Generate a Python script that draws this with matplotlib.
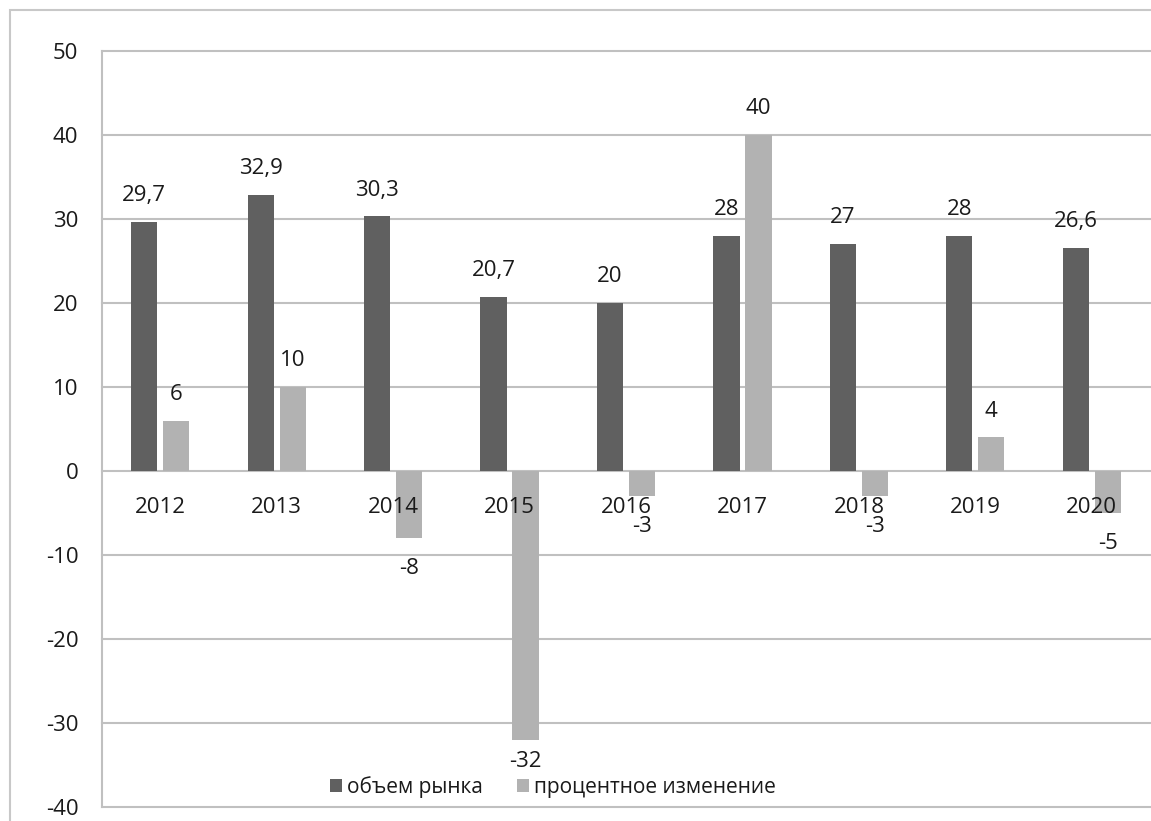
import numpy as np
import matplotlib
matplotlib.use("Agg")
from matplotlib import pyplot as plt
from matplotlib.patches import Rectangle

years = ["2012", "2013", "2014", "2015", "2016", "2017", "2018", "2019", "2020"]
market_volume = [29.7, 32.9, 30.3, 20.7, 20, 28, 27, 28, 26.6]
percent_change = [6, 10, -8, -32, -3, 40, -3, 4, -5]
y_ticks = [-40, -30, -20, -10, 0, 10, 20, 30, 40, 50]

DARK = "#606060"
LIGHT = "#b2b2b2"
GRID = "#c0c0c0"
TEXT = "#1a1a1a"

plt.rcParams['font.family'] = ['Open Sans', 'DejaVu Sans']
plt.rcParams['font.size'] = 16
plt.rcParams['axes.unicode_minus'] = False

W, H = 1151, 821
fig = plt.figure(figsize=(W / 100, H / 100), dpi=100)
ax = fig.add_axes([102 / W, (H - 807) / H, (1150 - 102) / W, (807 - 51) / H])

# outer chart frame
fig.patches.append(Rectangle((10 / W, -0.1), 2, (H - 10) / H + 0.1, transform=fig.transFigure,
                             fill=False, edgecolor="#c8c8c8", linewidth=1.5))


def fmt(v):
    return f"{v:g}".replace(".", ",")


x = np.arange(len(years))
width = 0.225
offset = 0.1375
bars1 = ax.bar(x - offset, market_volume, width, color=DARK, label="объем рынка", zorder=2)
bars2 = ax.bar(x + offset, percent_change, width, color=LIGHT, label="процентное изменение", zorder=2)

for bars, vals in [(bars1, market_volume), (bars2, percent_change)]:
    for b, v in zip(bars, vals):
        xc = b.get_x() + b.get_width() / 2
        if v >= 0:
            ax.annotate(fmt(v), (xc, v), xytext=(0, 19), textcoords="offset points",
                        ha="center", va="center", color=TEXT, zorder=4)
        else:
            # keep the label inside the plot, above the legend
            ax.text(xc, max(v - 3.6, -34.6), fmt(v), ha="center", va="center",
                    color=TEXT, zorder=4)

# category labels sit just below the zero line
for xi, yr in zip(x, years):
    ax.annotate(yr, (xi, 0), xytext=(0, -26), textcoords="offset points",
                ha="center", va="center", color=TEXT, zorder=4)

ax.set_xlim(-0.5, len(years) - 0.5)
ax.set_ylim(-40, 50)
ax.set_yticks(y_ticks)
ax.set_xticks([])
ax.tick_params(axis="y", length=0, pad=17, colors=TEXT)
ax.yaxis.grid(True, color=GRID, linewidth=1.5, zorder=1)
for gl in ax.get_ygridlines():
    gl.set_clip_on(False)
ax.set_axisbelow(True)
for s in ["top", "right", "bottom"]:
    ax.spines[s].set_visible(False)
ax.spines["left"].set_color(GRID)
ax.spines["left"].set_linewidth(1.5)

fig.legend(loc="center", bbox_to_anchor=(553 / W, (H - 787) / H), ncol=2, frameon=False,
           fontsize=15, handlelength=0.6, handleheight=0.6, handletextpad=0.25,
           columnspacing=1.6, borderpad=0, labelcolor=TEXT)

fig.savefig("out.png", dpi=100)
